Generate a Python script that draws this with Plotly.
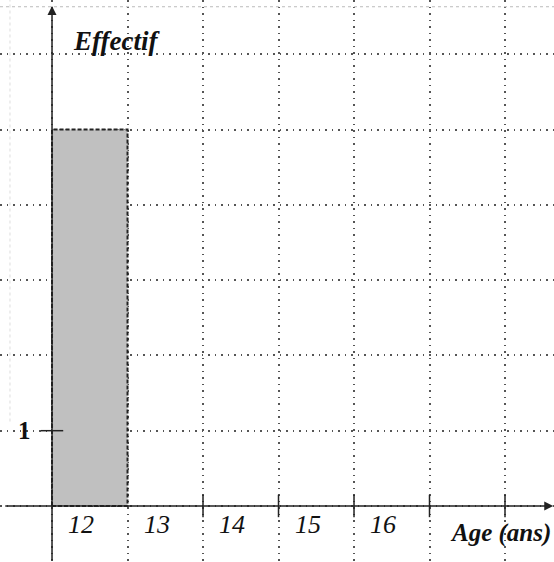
import plotly.graph_objects as go

# Data
bin_starts = [12]          # class [12 ; 13[
bin_width = 1
counts = [5]
age_ticks = [12, 13, 14, 15, 16]
age_labels = ["12", "13", "14", "15", "16"]
axis_tick_marks = [14, 15, 16, 17, 18]
y_tick_vals = [1]
y_tick_labels = ["1"]

X_RANGE = [11.311, 18.649]
Y_RANGE = [-0.744, 6.72]
SERIF = "'Liberation Serif', 'Times New Roman', serif"

fig = go.Figure()

# Histogram bar drawn as filled polygon from data
for x0, c in zip(bin_starts, counts):
    xs = [x0, x0, x0 + bin_width, x0 + bin_width, x0]
    ys = [0, c, c, 0, 0]
    fig.add_trace(go.Scatter(
        x=xs, y=ys, mode="lines", fill="toself",
        fillcolor="#c0c0c0",
        line=dict(color="#222", width=2, dash="4px,2px"),
        hoverinfo="skip", showlegend=False))

# tick marks on x axis
fig.add_trace(go.Scatter(
    x=axis_tick_marks, y=[0] * len(axis_tick_marks), mode="markers",
    marker=dict(symbol="line-ns", size=16, line=dict(color="#222", width=1.5)),
    hoverinfo="skip", showlegend=False))
# tick mark on y axis
fig.add_trace(go.Scatter(
    x=[12] * len(y_tick_vals), y=y_tick_vals, mode="markers",
    marker=dict(symbol="line-ew", size=16, line=dict(color="#222", width=1.5)),
    hoverinfo="skip", showlegend=False))

annotations = []
# axis arrows
annotations.append(dict(x=X_RANGE[1] - 0.01, y=0, ax=X_RANGE[0] + 0.05, ay=0,
                        xref="x", yref="y", axref="x", ayref="y", text="",
                        showarrow=True, arrowhead=2, arrowsize=1.2,
                        arrowwidth=1.5, arrowcolor="#222"))
annotations.append(dict(x=12, y=Y_RANGE[1] - 0.08, ax=12, ay=Y_RANGE[0],
                        xref="x", yref="y", axref="x", ayref="y", text="",
                        showarrow=True, arrowhead=2, arrowsize=1.2,
                        arrowwidth=1.5, arrowcolor="#222"))

for v, lab in zip(age_ticks, age_labels):
    annotations.append(dict(x=v + 0.39, y=-0.25, xref="x", yref="y", text=lab,
                            showarrow=False,
                            font=dict(family=SERIF, size=26, color="#111", style="italic")))
for v, lab in zip(y_tick_vals, y_tick_labels):
    annotations.append(dict(x=11.64, y=v, xref="x", yref="y", text="<b>" + lab + "</b>",
                            showarrow=False,
                            font=dict(family=SERIF, size=25, color="#111")))

annotations.append(dict(x=12.25, y=6.18, xref="x", yref="y", xanchor="left",
                        text="<b>Effectif</b>", showarrow=False,
                        font=dict(family=SERIF, size=27, color="#111", style="italic")))
annotations.append(dict(x=18.64, y=-0.36, xref="x", yref="y", xanchor="right",
                        text="<b>Age (ans)</b>", showarrow=False,
                        font=dict(family=SERIF, size=25, color="#111", style="italic")))

fig.update_layout(
    width=554, height=562,
    margin=dict(l=0, r=0, t=0, b=0),
    paper_bgcolor="white", plot_bgcolor="white",
    annotations=annotations,
    shapes=[
        dict(type="line", xref="paper", yref="paper", x0=0, x1=1, y0=0.988, y1=0.988,
             line=dict(color="#bbb", width=1, dash="dot")),
        dict(type="line", xref="paper", yref="paper", x0=0.018, x1=0.018, y0=0.25, y1=1,
             line=dict(color="#ddd", width=1, dash="dot")),
    ],
    xaxis=dict(range=X_RANGE, tickmode="linear", tick0=12, dtick=1,
               showticklabels=False, ticks="", showgrid=True,
               gridcolor="#555", gridwidth=1.5, griddash="1.5px,5px",
               zeroline=False, showline=False, fixedrange=True),
    yaxis=dict(range=Y_RANGE, tickmode="linear", tick0=0, dtick=1,
               showticklabels=False, ticks="", showgrid=True,
               gridcolor="#555", gridwidth=1.5, griddash="1.5px,5px",
               zeroline=False, showline=False, fixedrange=True),
)

fig.write_html("out.html", config={"displayModeBar": False},
               post_script="document.body.style.margin='0';document.body.style.overflow='hidden';")
